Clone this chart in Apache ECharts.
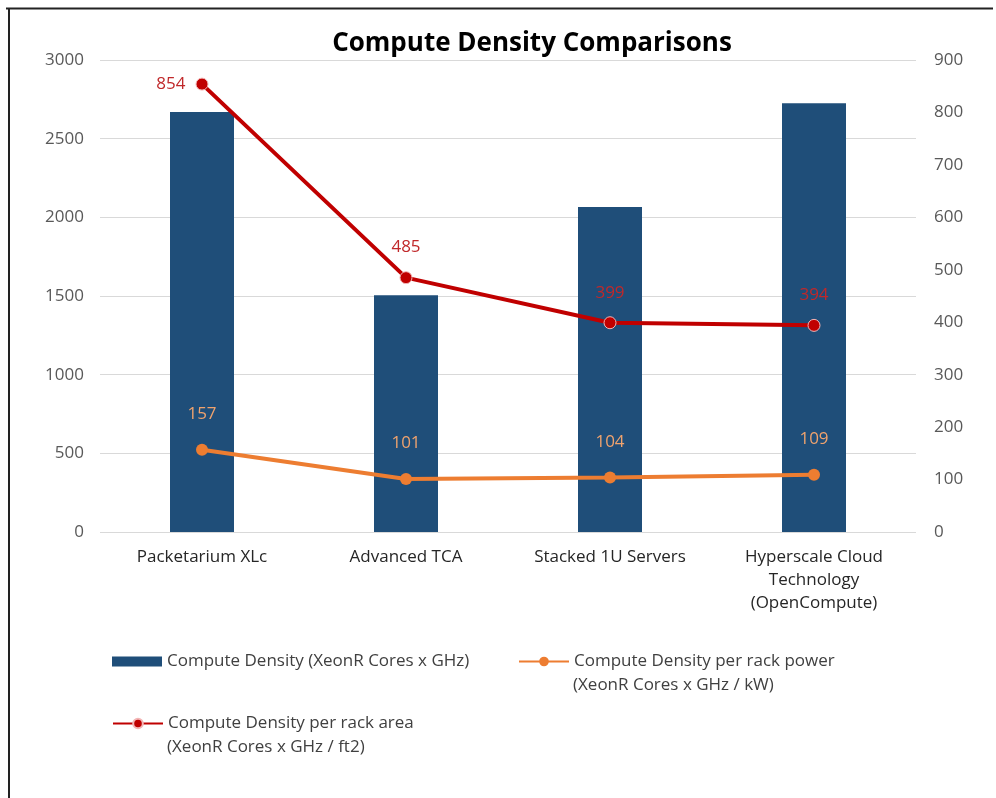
<!DOCTYPE html>
<html>
<head>
<meta charset="utf-8">
<script src="https://cdn.jsdelivr.net/npm/echarts@6/dist/echarts.min.js"></script>
<style>html,body{margin:0;padding:0;background:#fff;}#c{width:996px;height:798px;}</style>
</head>
<body>
<div id="c"></div>
<script>
const categories = ['Packetarium XLc', 'Advanced TCA', 'Stacked 1U Servers', 'Hyperscale Cloud\nTechnology\n(OpenCompute)'];
const computeDensity = [2670, 1505, 2065, 2725];
const perRackPower = [157, 101, 104, 109];
const perRackArea = [854, 485, 399, 394];
const leftTicks = {min: 0, max: 3000, interval: 500};
const rightTicks = {min: 0, max: 900, interval: 100};
const names = ['Compute Density (XeonR Cores x GHz)', 'Compute Density per rack power', 'Compute Density per rack area'];
const secondLines = ['(XeonR Cores x GHz / kW)', '(XeonR Cores x GHz / ft2)'];

const FONT = '"Open Sans", "Noto Sans", sans-serif';
const chart = echarts.init(document.getElementById('c'));
const legendText = {fontSize: 17, color: '#404040', fontFamily: FONT};
chart.setOption({
  backgroundColor: '#ffffff',
  animation: false,
  title: {
    text: 'Compute Density Comparisons',
    left: 527, top: 26, textAlign: 'center',
    textStyle: {fontSize: 26, fontWeight: 'bold', color: '#000', fontFamily: FONT}
  },
  grid: {left: 100, right: 80, top: 60, bottom: 266},
  legend: [
    {data: [{name: names[0], icon: 'rect'}], left: 107, top: 648, itemWidth: 50, itemHeight: 10, textStyle: legendText, selectedMode: false},
    {data: [names[1]], left: 513, top: 648, itemWidth: 50, itemHeight: 12, textStyle: legendText, selectedMode: false},
    {data: [names[2]], left: 107, top: 710, itemWidth: 50, itemHeight: 12, textStyle: legendText, selectedMode: false}
  ],
  graphic: [
    {type: 'line', shape: {x1: 6, y1: 8.5, x2: 993, y2: 8.5}, style: {stroke: '#222', lineWidth: 2}},
    {type: 'line', shape: {x1: 9, y1: 8, x2: 9, y2: 798}, style: {stroke: '#222', lineWidth: 2}},
    {type: 'text', left: 573, top: 677, style: {text: secondLines[0], fontSize: 17, fill: '#404040', fontFamily: FONT}},
    {type: 'text', left: 167, top: 739, style: {text: secondLines[1], fontSize: 17, fill: '#404040', fontFamily: FONT}}
  ],
  xAxis: {
    type: 'category', data: categories,
    axisLine: {show: false}, axisTick: {show: false},
    axisLabel: {fontSize: 17, color: '#262626', lineHeight: 23, margin: 14, fontFamily: FONT, interval: 0}
  },
  yAxis: [
    {type: 'value', min: leftTicks.min, max: leftTicks.max, interval: leftTicks.interval,
      axisLine: {show: false}, axisTick: {show: false},
      axisLabel: {fontSize: 17, color: '#595959', margin: 16, fontFamily: FONT, formatter: v => String(v)},
      splitLine: {lineStyle: {color: '#d9d9d9', width: 1}}},
    {type: 'value', min: rightTicks.min, max: rightTicks.max, interval: rightTicks.interval,
      axisLine: {show: false}, axisTick: {show: false},
      axisLabel: {fontSize: 17, color: '#595959', margin: 18, fontFamily: FONT, formatter: v => String(v)},
      splitLine: {show: false}}
  ],
  series: [
    {name: names[0], type: 'bar', data: computeDensity, barWidth: 64, yAxisIndex: 0,
      itemStyle: {color: '#1F4E79'}},
    {name: names[1], type: 'line', data: perRackPower, yAxisIndex: 1,
      lineStyle: {color: '#ED7D31', width: 4}, itemStyle: {color: '#ED7D31'},
      symbol: 'circle', symbolSize: 12,
      label: {show: true, position: 'top', distance: 21, color: '#F0A36E', fontSize: 17, fontFamily: FONT}},
    {name: names[2], type: 'line', yAxisIndex: 1,
      data: perRackArea.map((v, i) => i === 0 ? {value: v, label: {position: 'left', distance: 10}} : v),
      lineStyle: {color: '#C00000', width: 4}, itemStyle: {color: '#C00000', borderColor: '#f3b6b6', borderWidth: 1},
      symbol: 'circle', symbolSize: 12,
      label: {show: true, position: 'top', distance: 15, color: '#C0282A', fontSize: 17, fontFamily: FONT}}
  ]
});
</script>
</body>
</html>
